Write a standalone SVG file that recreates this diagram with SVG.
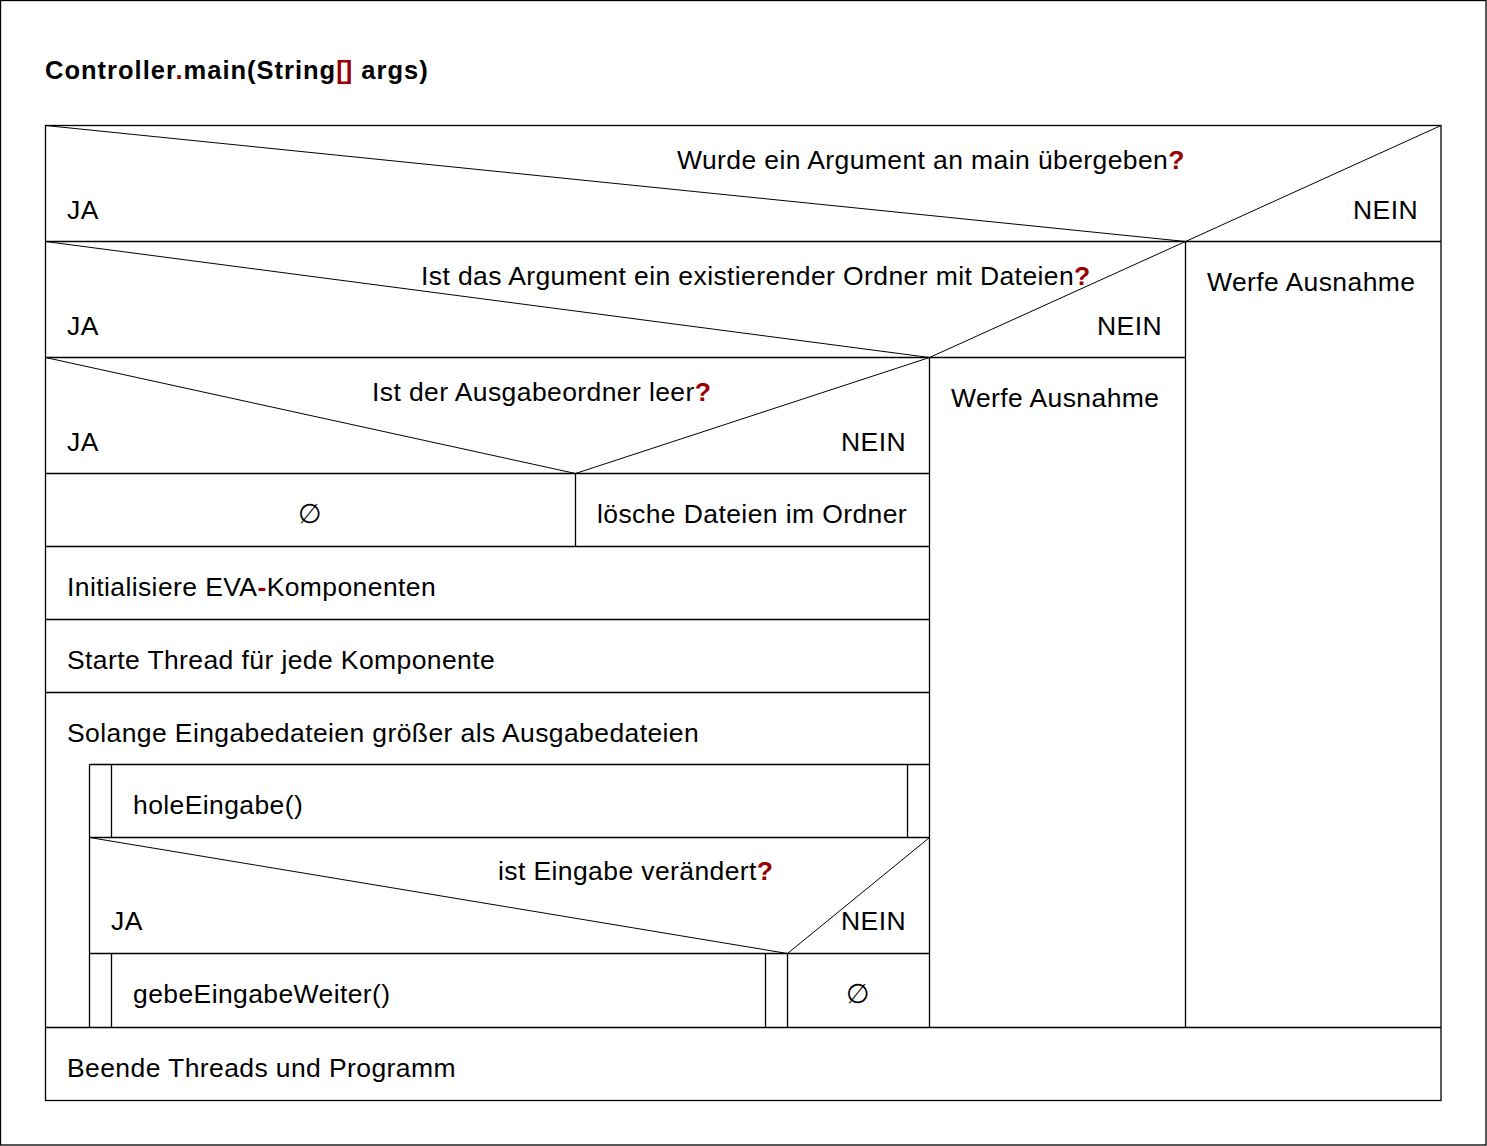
<svg xmlns="http://www.w3.org/2000/svg" width="1487" height="1146" viewBox="0 0 1487 1146">
<style>
text{font-family:"Liberation Sans",Arial,sans-serif;font-size:26.5px;letter-spacing:0.4px;fill:#000}
.t{font-weight:bold;font-size:25.5px;letter-spacing:1px}
.r{fill:#990000;font-weight:bold}
.k{letter-spacing:-1px}
.b{fill:#fff;stroke:#000;stroke-width:1.3}
.l{stroke:#000;stroke-width:1.3;fill:none}
.d{stroke:#000;stroke-width:1;fill:none}
</style>
<rect x="0.5" y="0.5" width="1485.5" height="1144.5" fill="#fff" stroke="#000" stroke-width="1.3"/>
<text class="t" x="45" y="79">Controller<tspan class="r">.</tspan>main(String<tspan class="r k">[</tspan><tspan class="r">]</tspan> args)</text>
<g id="frame"><rect class="b" x="45.5" y="125.5" width="1395.5" height="975"/></g>
<g id="connectors">
<line class="d" x1="45.5" y1="125.5" x2="1185.5" y2="241.5"/>
<line class="d" x1="1185.5" y1="241.5" x2="1441" y2="125.5"/>
<line class="l" x1="45.5" y1="241.5" x2="1441" y2="241.5"/>
<line class="l" x1="1185.5" y1="241.5" x2="1185.5" y2="1027.5"/>
<line class="d" x1="45.5" y1="241.5" x2="929.5" y2="357.5"/>
<line class="d" x1="929.5" y1="357.5" x2="1185.5" y2="241.5"/>
<line class="l" x1="45.5" y1="357.5" x2="1185.5" y2="357.5"/>
<line class="l" x1="929.5" y1="357.5" x2="929.5" y2="1027.5"/>
<line class="d" x1="45.5" y1="357.5" x2="575.5" y2="473.5"/>
<line class="d" x1="575.5" y1="473.5" x2="929.5" y2="357.5"/>
<line class="l" x1="45.5" y1="473.5" x2="929.5" y2="473.5"/>
<line class="l" x1="575.5" y1="473.5" x2="575.5" y2="546.5"/>
<line class="l" x1="45.5" y1="546.5" x2="929.5" y2="546.5"/>
<line class="l" x1="45.5" y1="619.5" x2="929.5" y2="619.5"/>
<line class="l" x1="45.5" y1="692.5" x2="929.5" y2="692.5"/>
<line class="l" x1="89.5" y1="764.5" x2="929.5" y2="764.5"/>
<line class="l" x1="89.5" y1="764.5" x2="89.5" y2="1027.5"/>
<line class="l" x1="111.5" y1="764.5" x2="111.5" y2="837.5"/>
<line class="l" x1="907.5" y1="764.5" x2="907.5" y2="837.5"/>
<line class="l" x1="89.5" y1="837.5" x2="929.5" y2="837.5"/>
<line class="d" x1="89.5" y1="837.5" x2="787.5" y2="953.5"/>
<line class="d" x1="787.5" y1="953.5" x2="929.5" y2="837.5"/>
<line class="l" x1="89.5" y1="953.5" x2="929.5" y2="953.5"/>
<line class="l" x1="111.5" y1="953.5" x2="111.5" y2="1027.5"/>
<line class="l" x1="765.5" y1="953.5" x2="765.5" y2="1027.5"/>
<line class="l" x1="787.5" y1="953.5" x2="787.5" y2="1027.5"/>
<line class="l" x1="45.5" y1="1027.5" x2="1441" y2="1027.5"/>
</g>
<g id="d1">
<text x="677" y="169">Wurde ein Argument an main übergeben<tspan class="r">?</tspan></text>
<text x="67" y="219">JA</text>
<text x="1418" y="219" text-anchor="end">NEIN</text>
</g>
<g id="e1"><text x="1207" y="291">Werfe Ausnahme</text></g>
<g id="d2">
<text x="421" y="285">Ist das Argument ein existierender Ordner mit Dateien<tspan class="r">?</tspan></text>
<text x="67" y="335">JA</text>
<text x="1162" y="335" text-anchor="end">NEIN</text>
</g>
<g id="e2"><text x="951" y="407">Werfe Ausnahme</text></g>
<g id="d3">
<text x="372" y="401">Ist der Ausgabeordner leer<tspan class="r">?</tspan></text>
<text x="67" y="451">JA</text>
<text x="906" y="451" text-anchor="end">NEIN</text>
</g>
<g id="empty1"><text x="310" y="523" text-anchor="middle">∅</text></g>
<g id="loesche"><text x="597" y="523">lösche Dateien im Ordner</text></g>
<g id="init"><text x="67" y="596">Initialisiere EVA<tspan class="r">-</tspan>Komponenten</text></g>
<g id="starte"><text x="67" y="669">Starte Thread für jede Komponente</text></g>
<g id="loop"><text x="67" y="742">Solange Eingabedateien größer als Ausgabedateien</text></g>
<g id="hole"><text x="133" y="814">holeEingabe()</text></g>
<g id="d4">
<text x="498" y="880">ist Eingabe verändert<tspan class="r">?</tspan></text>
<text x="111" y="930">JA</text>
<text x="906" y="930" text-anchor="end">NEIN</text>
</g>
<g id="gebe"><text x="133" y="1003">gebeEingabeWeiter()</text></g>
<g id="empty2"><text x="858" y="1003" text-anchor="middle">∅</text></g>
<g id="beende"><text x="67" y="1077">Beende Threads und Programm</text></g>
</svg>
